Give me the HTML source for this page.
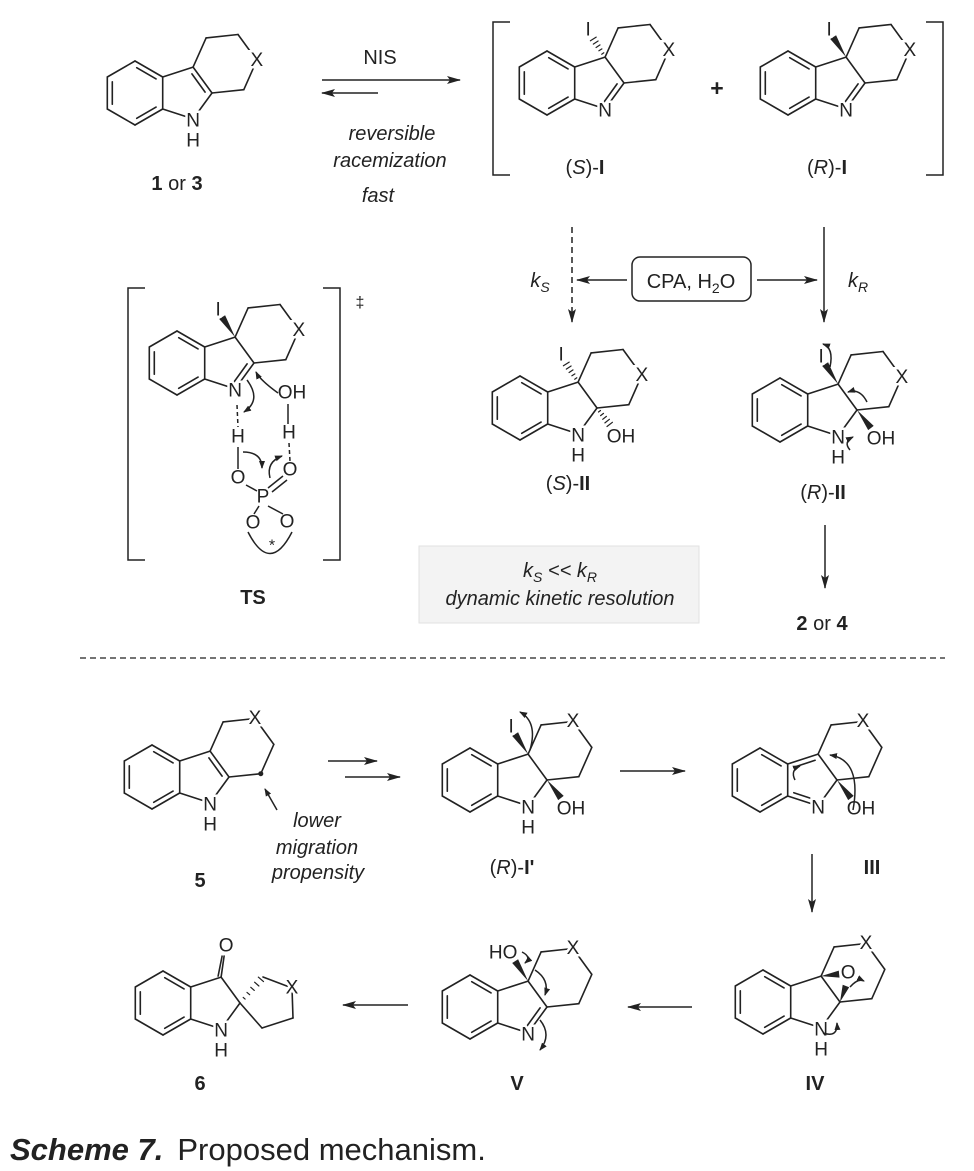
<!DOCTYPE html>
<html><head><meta charset="utf-8"><style>
html,body{margin:0;padding:0;background:#fff;}
svg{display:block;font-family:"Liberation Sans",sans-serif;}
</style></head><body>
<svg id="s" width="974" height="1171" viewBox="0 0 974 1171" xmlns="http://www.w3.org/2000/svg">
<defs>
<marker id="ah" markerUnits="userSpaceOnUse" markerWidth="14" markerHeight="10" refX="13" refY="4" orient="auto">
<path d="M0,0 L14,4 L0,8 L3,4 z" fill="#222"/></marker>
<marker id="sh" markerUnits="userSpaceOnUse" markerWidth="8" markerHeight="8" refX="7" refY="3" orient="auto">
<path d="M0,0 L8,3 L0,6 z" fill="#222"/></marker>
</defs>
<g id="lines" stroke="#222" stroke-width="1.6" fill="none" stroke-linecap="round"></g>
<g id="labels" font-size="19" fill="#222" text-anchor="middle" dominant-baseline="central" stroke="#fff" stroke-width="5" paint-order="stroke"></g>

<g stroke="#222" stroke-width="1.5" fill="none">
<line x1="322" y1="80" x2="460" y2="80" marker-end="url(#ah)"/>
<line x1="378" y1="93" x2="322" y2="93" marker-end="url(#ah)"/>
<path d="M510,22 H493 V175 H510 M926,22 H943 V175 H926"/>
<path d="M145,288 H128 V560 H145 M323,288 H340 V560 H323"/>
<line x1="572" y1="227" x2="572" y2="322" stroke-dasharray="6,4" marker-end="url(#ah)"/>
<line x1="824" y1="227" x2="824" y2="322" marker-end="url(#ah)"/>
<line x1="627" y1="280" x2="577" y2="280" marker-end="url(#ah)"/>
<line x1="757" y1="280" x2="817" y2="280" marker-end="url(#ah)"/>
<rect x="632" y="257" width="119" height="44" rx="8"/>
<line x1="825" y1="525" x2="825" y2="588" marker-end="url(#ah)"/>
<line x1="80" y1="658" x2="945" y2="658" stroke-dasharray="6,4" stroke-width="1.3"/>
<line x1="328" y1="761" x2="377" y2="761" marker-end="url(#ah)"/>
<line x1="345" y1="777" x2="400" y2="777" marker-end="url(#ah)"/>
<line x1="277" y1="810" x2="265" y2="789" marker-end="url(#sh)"/>
<line x1="620" y1="771" x2="685" y2="771" marker-end="url(#ah)"/>
<line x1="812" y1="854" x2="812" y2="912" marker-end="url(#ah)"/>
<line x1="692" y1="1007" x2="628" y2="1007" marker-end="url(#ah)"/>
<line x1="408" y1="1005" x2="343" y2="1005" marker-end="url(#ah)"/>
</g>
<rect x="419" y="546" width="280" height="77" fill="#f3f3f3" stroke="#e2e2e2"/>

<g stroke="#222" stroke-width="1.5" fill="none">
<line x1="237" y1="405" x2="238" y2="427" stroke-dasharray="4,3"/>
<line x1="238" y1="447" x2="238" y2="469"/>
<line x1="246" y1="485" x2="257" y2="491"/>
<line x1="268" y1="488" x2="283" y2="476"/>
<line x1="272" y1="492" x2="287" y2="480"/>
<line x1="288" y1="404" x2="288" y2="424"/>
<line x1="289" y1="443" x2="290" y2="461" stroke-dasharray="4,3"/>
<line x1="259" y1="506" x2="254" y2="514"/>
<line x1="268" y1="506" x2="283" y2="514"/>
<path d="M248,532 Q270,575 292,532"/>
<path d="M278,393 Q260,380 256,372" marker-end="url(#sh)"/>
<path d="M247,380 Q262,400 244,412" marker-end="url(#sh)"/>
<path d="M243,452 Q262,452 262,468" marker-end="url(#sh)"/>
<path d="M270,478 Q266,462 282,456" marker-end="url(#sh)"/>
<!-- extra curly arrows -->
<path d="M830,367 Q834,348 823,344" marker-end="url(#sh)"/>
<path d="M867,402 Q860,388 848,392" marker-end="url(#sh)"/>
<path d="M850,450 Q843,442 853,437" marker-end="url(#sh)"/>
<path d="M530,750 Q538,722 520,712" marker-end="url(#sh)"/>
<path d="M853,810 Q862,760 830,755" marker-end="url(#sh)"/>
<path d="M795,780 Q790,770 800,766" marker-end="url(#sh)"/>
<path d="M522,952 Q532,957 525,963" marker-end="url(#sh)"/>
<path d="M535,970 Q550,980 545,995" marker-end="url(#sh)"/>
<path d="M540,1020 Q552,1035 540,1050" marker-end="url(#sh)"/>
<path d="M823,1033 Q838,1038 837,1023" marker-end="url(#sh)"/>
<path d="M850,987 Q858,978 864,981" marker-end="url(#sh)"/>
</g>
<g font-size="19" fill="#222" text-anchor="middle" dominant-baseline="central">
<text x="292" y="393">OH</text>
<text x="238" y="437">H</text>
<text x="289" y="433">H</text>
<text x="238" y="478">O</text>
<text x="290" y="470">O</text>
<text x="263" y="497">P</text>
<text x="253" y="523">O</text>
<text x="287" y="522">O</text>
<text x="272" y="546" font-size="16">*</text>
<text x="360" y="303" font-size="16">‡</text>
</g>

<g fill="#222" font-size="20" text-anchor="middle">
<text x="380" y="64">NIS</text>
<text x="392" y="140" font-style="italic">reversible</text>
<text x="390" y="167" font-style="italic">racemization</text>
<text x="378" y="202" font-style="italic">fast</text>
<text x="177" y="190"><tspan font-weight="bold">1</tspan> or <tspan font-weight="bold">3</tspan></text>
<text x="717" y="96" font-weight="bold" font-size="23">+</text>
<text x="585" y="174">(<tspan font-style="italic">S</tspan>)-<tspan font-weight="bold">I</tspan></text>
<text x="827" y="174">(<tspan font-style="italic">R</tspan>)-<tspan font-weight="bold">I</tspan></text>
<text x="540" y="287" font-style="italic">k<tspan font-size="14" dy="5">S</tspan></text>
<text x="858" y="287" font-style="italic">k<tspan font-size="14" dy="5">R</tspan></text>
<text x="691" y="288">CPA, H<tspan font-size="14" dy="5">2</tspan><tspan dy="-5">O</tspan></text>
<text x="568" y="490">(<tspan font-style="italic">S</tspan>)-<tspan font-weight="bold">II</tspan></text>
<text x="823" y="499">(<tspan font-style="italic">R</tspan>)-<tspan font-weight="bold">II</tspan></text>
<text x="560" y="577" font-style="italic">k<tspan font-size="14" dy="5">S</tspan><tspan dy="-5"> &lt;&lt; k</tspan><tspan font-size="14" dy="5">R</tspan></text>
<text x="560" y="605" font-style="italic">dynamic kinetic resolution</text>
<text x="253" y="604" font-weight="bold">TS</text>
<text x="822" y="630"><tspan font-weight="bold">2</tspan> or <tspan font-weight="bold">4</tspan></text>
<text x="317" y="827" font-style="italic">lower</text>
<text x="317" y="854" font-style="italic">migration</text>
<text x="318" y="879" font-style="italic">propensity</text>
<text x="200" y="887" font-weight="bold">5</text>
<text x="512" y="874">(<tspan font-style="italic">R</tspan>)-<tspan font-weight="bold">I'</tspan></text>
<text x="872" y="874" font-weight="bold">III</text>
<text x="815" y="1090" font-weight="bold">IV</text>
<text x="517" y="1090" font-weight="bold">V</text>
<text x="200" y="1090" font-weight="bold">6</text>
</g>
<text x="10" y="1160" font-size="31" fill="#222"><tspan font-weight="bold" font-style="italic">Scheme 7.</tspan><tspan dx="14">Proposed mechanism.</tspan></text>
</svg>
<script>
(function(){
const L=32, R5=0.8507*L, S=0.866*L;
let lines='', labels='';
const f=v=>v.toFixed(1);
function ln(a,b,extra){lines+=`<line x1="${f(a[0])}" y1="${f(a[1])}" x2="${f(b[0])}" y2="${f(b[1])}" ${extra||''}/>`;}
function dbl(a,b,c){
  const mx=(a[0]+b[0])/2,my=(a[1]+b[1])/2;let nx=c[0]-mx,ny=c[1]-my;const l=Math.hypot(nx,ny);nx/=l;ny/=l;
  const o=5, sh=0.15;
  const a2=[a[0]+(b[0]-a[0])*sh+nx*o,a[1]+(b[1]-a[1])*sh+ny*o];
  const b2=[b[0]+(a[0]-b[0])*sh+nx*o,b[1]+(a[1]-b[1])*sh+ny*o];
  ln(a2,b2);
}
function lab(t,p,dx,dy){labels+=`<text x="${f(p[0]+(dx||0))}" y="${f(p[1]+(dy||0))}">${t}</text>`;}
function wedge(a,b){
  let nx=-(b[1]-a[1]),ny=b[0]-a[0];const l=Math.hypot(nx,ny);nx/=l;ny/=l;const w=3.5;
  lines+=`<polygon points="${f(a[0])},${f(a[1])} ${f(b[0]+nx*w)},${f(b[1]+ny*w)} ${f(b[0]-nx*w)},${f(b[1]-ny*w)}" fill="#222" stroke="none"/>`;
}
function hash(a,b){
  let nx=-(b[1]-a[1]),ny=b[0]-a[0];const l=Math.hypot(nx,ny);nx/=l;ny/=l;
  for(let i=1;i<=5;i++){const t=i/5.5,w=0.7+3*t;const px=a[0]+(b[0]-a[0])*t,py=a[1]+(b[1]-a[1])*t;
    ln([px+nx*w,py+ny*w],[px-nx*w,py-ny*w],'stroke-width="1.2"');}
}
function add(p,v){return [p[0]+v[0],p[1]+v[1]];}
function mol(bx,by,o){
  const b=[[0,-L],[S,-L/2],[S,L/2],[0,L],[-S,L/2],[-S,-L/2]].map(p=>[bx+p[0],by+p[1]]);
  const bc=[bx,by];
  for(let i=0;i<6;i++) ln(b[i],b[(i+1)%6]);
  dbl(b[0],b[1],bc);dbl(b[2],b[3],bc);dbl(b[4],b[5],bc);
  const P=[bx+S+0.688*L,by];
  const A=d=>d*Math.PI/180;
  const C3a=b[1],C7a=b[2];
  const N=[P[0]+R5*Math.cos(A(72)),P[1]+R5*Math.sin(A(72))];
  const C2=[P[0]+R5,P[1]];
  const C3=[P[0]+R5*Math.cos(A(-72)),P[1]+R5*Math.sin(A(-72))];
  ln(C3a,C3);ln(C7a,N);ln(N,C2);
  if(!o.spiro) ln(C3,C2);
  if(o.c23) dbl(C3,C2,P);
  if(o.cn) dbl(N,C2,P);
  if(o.c3a3) dbl(C3a,C3,P);
  if(o.c7an) dbl(C7a,N,P);
  if(o.spiro){
    ln(C3,C2);
    const O=add(C3,[5,-31]);ln(C3,add(C3,[3,-21]));ln(add(C3,[-3,-1]),add(C3,[1,-21]));
    lab('O',O);
    const q1=[bx+100,by-26],X=[bx+129,by-15],q3=[bx+130,by+15],q4=[bx+99,by+25];
    hash(C2,q1);ln(q1,X);ln(X,q3);ln(q3,q4);ln(q4,C2);lab('X',X);
  } else {
    const mx=(C3[0]+C2[0])/2,my=(C3[1]+C2[1])/2;let nx=mx-P[0],ny=my-P[1];const nl=Math.hypot(nx,ny);nx/=nl;ny/=nl;
    const H=[mx+nx*S,my+ny*S];
    const a0=Math.atan2(C3[1]-H[1],C3[0]-H[0]),a1=Math.atan2(C2[1]-H[1],C2[0]-H[0]);
    let d=a1-a0; while(d>Math.PI)d-=2*Math.PI; while(d<-Math.PI)d+=2*Math.PI;
    const hv=[];for(let k=0;k<6;k++)hv.push([H[0]+L*Math.cos(a0+k*d),H[1]+L*Math.sin(a0+k*d)]);
    for(let k=1;k<6;k++) ln(hv[k],hv[(k+1)%6]);
    lab('X',hv[o.x]);
    if(o.dot) lines+=`<circle cx="${f(hv[o.dot][0])}" cy="${f(hv[o.dot][1])}" r="2.5" fill="#222" stroke="none"/>`;
  }
  if(o.I){const e=add(C3,[-13,-20]); if(o.I==='w')wedge(C3,e);else if(o.I==='h')hash(C3,e);else ln(C3,e); lab('I',C3,-17,-27);}
  if(o.HO){const e=add(C3,[-13,-20]);wedge(C3,e);lab('HO',C3,-25,-28);}
  if(o.OH){const e=add(C2,[14,18]); if(o.OH==='w')wedge(C2,e);else if(o.OH==='h')hash(C2,e);else ln(C2,e); lab('OH',C2,24,29);}
  if(o.epox){const O=add(C3,[27,-3]);wedge(C3,add(C3,[18,-2]));wedge(C2,add(C2,[6,-16]));lab('O',O);}
  lab('N',N,0,2);
  if(o.NH) lab('H',N,0,22);
}
mol(135,93,{c23:1,NH:1,x:3});
mol(547,83,{cn:1,x:3,I:'h'});
mol(788,83,{cn:1,x:3,I:'w'});
mol(177,363,{cn:1,x:3,I:'w'});
mol(520,408,{NH:1,x:3,I:'h',OH:'h'});
mol(780,410,{NH:1,x:3,I:'w',OH:'w'});
mol(152,777,{c23:1,NH:1,x:4,dot:2});
mol(470,780,{NH:1,x:4,I:'w',OH:'w'});
mol(760,780,{c3a3:1,c7an:1,x:4,OH:'w'});
mol(763,1002,{NH:1,x:4,epox:1});
mol(470,1007,{cn:1,x:4,HO:1});
mol(163,1003,{NH:1,spiro:1});
document.getElementById('lines').innerHTML=lines;
document.getElementById('labels').innerHTML=labels;
})();
</script>
</body></html>
